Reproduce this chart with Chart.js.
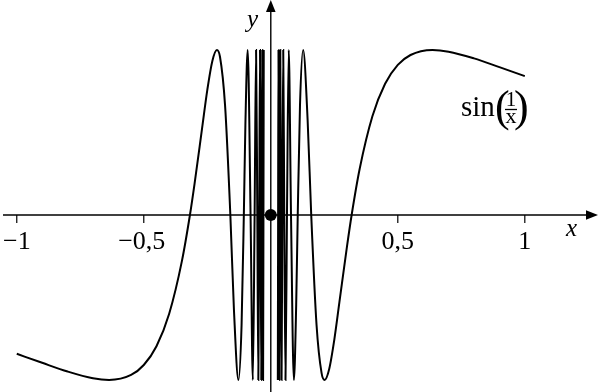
<!DOCTYPE html>
<html>
<head>
<meta charset="utf-8">
<script src="https://cdn.jsdelivr.net/npm/chart.js@4.4.1/dist/chart.umd.min.js"></script>
<style>
html,body{margin:0;padding:0;background:#fff;}
#wrap{width:600px;height:392px;position:relative;}
</style>
</head>
<body>
<div id="wrap"><canvas id="c"></canvas></div>
<script>
// Left branch (x < 0) of sin(1/x), values read/estimated
const xLeft = [-1, -0.9, -0.8, -0.7, -0.6366, -0.55, -0.5, -0.45, -0.4, -0.35, -0.3183, -0.3, -0.27, -0.25, -0.23, -0.2122, -0.2, -0.18, -0.1592, -0.145, -0.1273, -0.115, -0.1061, -0.1, -0.0909, -0.0796, -0.0707, -0.0637, -0.0579, -0.0531, -0.0490, -0.0455, -0.0424, -0.0398, -0.0374, -0.0354, -0.0335, -0.0318, -0.0303, -0.0289, -0.0277];
const yLeft = [-0.8415, -0.8961, -0.9490, -0.9898, -1, -0.9696, -0.9093, -0.7954, -0.5985, -0.2800, 0, 0.1906, 0.5303, 0.7568, 0.9336, 1, 0.9589, 0.6639, 0, -0.5756, -1, -0.6664, 0, 0.5440, 1, 0, -1, 0, 1, 0, -1, 0, 1, 0, -1, 0, 1, 0, -1, 0, 1];
// Right branch (x > 0)
const xRight = [0.0277, 0.0289, 0.0303, 0.0318, 0.0335, 0.0354, 0.0374, 0.0398, 0.0424, 0.0455, 0.0490, 0.0531, 0.0579, 0.0637, 0.0707, 0.0796, 0.0909, 0.1, 0.1061, 0.115, 0.1273, 0.145, 0.1592, 0.18, 0.2, 0.2122, 0.23, 0.25, 0.27, 0.3, 0.3183, 0.35, 0.4, 0.45, 0.5, 0.55, 0.6366, 0.7, 0.8, 0.9, 1];
const yRight = [-1, 0, 1, 0, -1, 0, 1, 0, -1, 0, 1, 0, -1, 0, 1, 0, -1, -0.5440, 0, 0.6664, 1, 0.5756, 0, -0.6639, -0.9589, -1, -0.9336, -0.7568, -0.5303, -0.1906, 0, 0.2800, 0.5985, 0.7954, 0.9093, 0.9696, 1, 0.9898, 0.9490, 0.8961, 0.8415];
// Axis ticks
const tickValues = [-1, -0.5, 0.5, 1];
const tickLabels = ['\u22121', '\u22120,5', '0,5', '1'];
const originPoint = [{x: 0, y: 0}];

const toPts = (xs, ys) => xs.map((x, i) => ({x: x, y: ys[i]}));

const serif = "'Liberation Serif', 'DejaVu Serif', serif";

const axesPlugin = {
  id: 'mathAxes',
  beforeDatasetsDraw(chart) {
    const ctx = chart.ctx;
    const xs = chart.scales.x, ys = chart.scales.y;
    const x0 = xs.getPixelForValue(0), y0 = ys.getPixelForValue(0);
    ctx.save();
    ctx.strokeStyle = '#000';
    ctx.fillStyle = '#000';
    ctx.lineWidth = 1.4;
    // x axis
    ctx.beginPath();
    ctx.moveTo(3, y0);
    ctx.lineTo(588, y0);
    ctx.stroke();
    ctx.beginPath();
    ctx.moveTo(598, y0);
    ctx.lineTo(586, y0 - 4.8);
    ctx.lineTo(586, y0 + 4.8);
    ctx.closePath();
    ctx.fill();
    // y axis
    ctx.beginPath();
    ctx.moveTo(x0, 392);
    ctx.lineTo(x0, 10);
    ctx.stroke();
    ctx.beginPath();
    ctx.moveTo(x0, 0);
    ctx.lineTo(x0 - 4.8, 12);
    ctx.lineTo(x0 + 4.8, 12);
    ctx.closePath();
    ctx.fill();
    // ticks
    ctx.lineWidth = 1.2;
    tickValues.forEach((v) => {
      const px = xs.getPixelForValue(v);
      ctx.beginPath();
      ctx.moveTo(px, y0);
      ctx.lineTo(px, y0 + 8);
      ctx.stroke();
    });
    ctx.restore();
  },
  afterDraw(chart) {
    const ctx = chart.ctx;
    const xs = chart.scales.x, ys = chart.scales.y;
    const y0 = ys.getPixelForValue(0);
    ctx.save();
    ctx.fillStyle = '#000';
    ctx.textBaseline = 'alphabetic';
    ctx.font = '26px ' + serif;
    ctx.textAlign = 'center';
    tickValues.forEach((v, i) => {
      const px = xs.getPixelForValue(v);
      const w = ctx.measureText(tickLabels[i]).width;
      const cx = Math.max(px - (v < 0 ? 2 : 0), 3 + w / 2);
      ctx.fillText(tickLabels[i], cx, y0 + 34);
    });
    // axis names
    ctx.font = 'italic 25px ' + serif;
    ctx.textAlign = 'left';
    ctx.fillText('x', 566, y0 + 21);
    ctx.fillText('y', 247, 27);
    // function label sin(1/x)
    ctx.font = '29px ' + serif;
    ctx.fillText('sin', 461, 116);
    // big parentheses
    ctx.font = '44px ' + serif;
    ctx.fillText('(', 495, 121);
    ctx.fillText(')', 514, 121);
    // fraction
    ctx.textAlign = 'center';
    ctx.font = '21px ' + serif;
    ctx.fillText('1', 511, 106);
    ctx.font = '22px ' + serif;
    ctx.fillText('x', 511, 123);
    ctx.lineWidth = 1.3;
    ctx.beginPath();
    ctx.moveTo(505, 109.5);
    ctx.lineTo(517, 109.5);
    ctx.stroke();
    ctx.restore();
  }
};

new Chart(document.getElementById('c'), {
  type: 'scatter',
  data: {
    datasets: [
      {
        data: toPts(xLeft, yLeft),
        showLine: true,
        borderColor: '#000',
        borderWidth: 2,
        pointRadius: 0,
        cubicInterpolationMode: 'monotone',
        fill: false
      },
      {
        data: toPts(xRight, yRight),
        showLine: true,
        borderColor: '#000',
        borderWidth: 2,
        pointRadius: 0,
        cubicInterpolationMode: 'monotone',
        fill: false
      },
      {
        data: originPoint,
        showLine: false,
        pointRadius: 6,
        pointBackgroundColor: '#000',
        pointBorderWidth: 0,
        borderColor: '#000'
      }
    ]
  },
  options: {
    responsive: true,
    maintainAspectRatio: false,
    devicePixelRatio: 1,
    animation: false,
    events: [],
    layout: { padding: 0, autoPadding: false },
    plugins: { legend: { display: false }, tooltip: { enabled: false } },
    scales: {
      x: { type: 'linear', min: -1.066, max: 1.296, display: false },
      y: { type: 'linear', min: -1.073, max: 1.303, display: false }
    }
  },
  plugins: [axesPlugin]
});
</script>
</body>
</html>
